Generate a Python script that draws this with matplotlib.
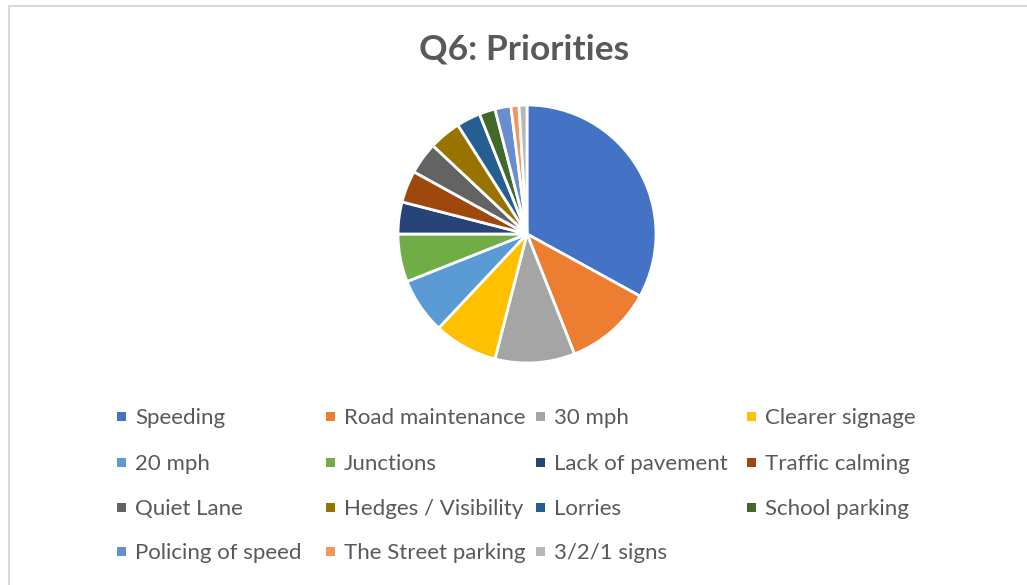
import matplotlib
matplotlib.use('Agg')
import matplotlib.pyplot as plt
from matplotlib.patches import Rectangle

# Q6 priorities, share of responses
categories = ['Speeding', 'Road maintenance', '30 mph', 'Clearer signage',
              '20 mph', 'Junctions', 'Lack of pavement', 'Traffic calming',
              'Quiet Lane', 'Hedges / Visibility', 'Lorries', 'School parking',
              'Policing of speed', 'The Street parking', '3/2/1 signs']
values = [33, 11, 10, 8, 7, 6, 4, 4, 4, 4, 3, 2, 2, 1, 1]
colors = ['#4472C4', '#ED7D31', '#A5A5A5', '#FFC000', '#5B9BD5', '#70AD47',
          '#264478', '#9E480E', '#636363', '#997300', '#255E91', '#43682B',
          '#698ED0', '#F1975A', '#B7B7B7']

W, H = 1027, 585
fig = plt.figure(figsize=(W / 100, H / 100), dpi=100)

# chart area border (runs off right/bottom edge in the source)
fig.patches.append(Rectangle((9 / W, -0.1), 1.2, 1 - 6 / H + 0.1,
                             transform=fig.transFigure, fill=False,
                             edgecolor='#D9D9D9', linewidth=1.5))

fig.text(524 / W, 1 - 49 / H, 'Q6: Priorities', ha='center', va='center',
         fontsize=25.5, fontweight='bold', color='#595959', family='Lato')

cx, cy, r = 527, 234, 129
ax = fig.add_axes([(cx - r) / W, 1 - (cy + r) / H, 2 * r / W, 2 * r / H])
ax.pie(values, colors=colors, startangle=90, counterclock=False,
       wedgeprops=dict(edgecolor='white', linewidth=2))
ax.set_xlim(-1, 1)
ax.set_ylim(-1, 1)
ax.set_aspect('equal')
ax.axis('off')

# legend laid out row by row, 4 columns
col_x = [121, 330, 540, 751]
row_y = [416, 462, 507, 551]
for i, (lab, c) in enumerate(zip(categories, colors)):
    row, col = divmod(i, 4)
    x, y = col_x[col], row_y[row]
    fig.patches.append(Rectangle(((x - 4.5) / W, 1 - (y + 4.5) / H), 9 / W, 9 / H,
                                 transform=fig.transFigure, facecolor=c,
                                 edgecolor='none'))
    fig.text((x + 14) / W, 1 - y / H, lab, ha='left', va='center_baseline',
             fontsize=16, color='#595959', family='Lato')

fig.savefig('out.png', dpi=100)
